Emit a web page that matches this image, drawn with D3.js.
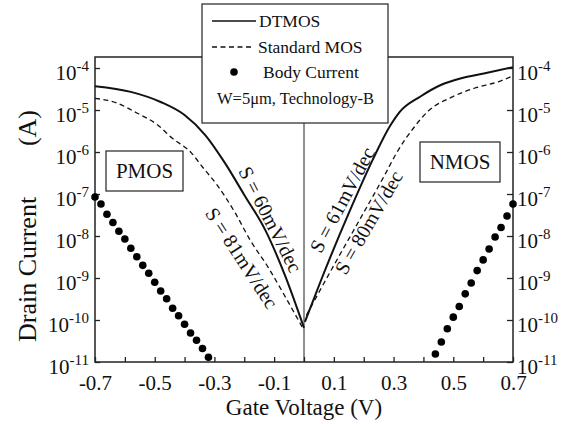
<!DOCTYPE html>
<html>
<head>
<meta charset="utf-8">
<script src="https://cdn.jsdelivr.net/npm/d3@7"></script>
<style>
  body { margin: 0; background: #fff; }
  text { font-family: "Liberation Serif", "Times New Roman", serif; fill: #111; }
</style>
</head>
<body>
<div class="chart"></div>
<script>
// ---- data ----
// PMOS side (negative gate voltage)
var pmosDtV   = [-0.70, -0.58, -0.48, -0.40, -0.33, -0.265, -0.20, -0.13, -0.064, 0];
var pmosDtI   = [3.7e-5, 2.7e-5, 1.55e-5, 7.6e-6, 2.5e-6, 5.5e-7, 9.5e-8, 1.4e-8, 1.17e-9, 6.5e-11];
var pmosStdV  = [-0.70, -0.63, -0.56, -0.49, -0.44, -0.38, -0.34, -0.29, -0.23, -0.18, -0.12, -0.07, 0];
var pmosStdI  = [1.9e-5, 1.5e-5, 8.5e-6, 4.4e-6, 2.1e-6, 1.0e-6, 4.4e-7, 1.6e-7, 3.5e-8, 7.9e-9, 1.8e-9, 4.4e-10, 5.7e-11];
var pmosBodyV = [-0.70, -0.68, -0.66, -0.64, -0.62, -0.60, -0.58, -0.56, -0.54, -0.52, -0.50, -0.48, -0.46, -0.44, -0.42, -0.40, -0.38, -0.36, -0.34, -0.32];
var pmosBodyI = [8.5e-8, 5.8e-8, 3.3e-8, 2.1e-8, 1.3e-8, 8.5e-9, 5.1e-9, 3.2e-9, 2.0e-9, 1.3e-9, 7.9e-10, 4.9e-10, 3.2e-10, 1.9e-10, 1.26e-10, 7.9e-11, 4.9e-11, 3.3e-11, 2.1e-11, 1.3e-11];

// NMOS side (positive gate voltage)
var nmosDtV   = [0.003, 0.06, 0.15, 0.23, 0.29, 0.32, 0.39, 0.46, 0.53, 0.61, 0.70];
var nmosDtI   = [9.0e-11, 1.0e-9, 3.5e-8, 6.5e-7, 4.4e-6, 8.9e-6, 2.1e-5, 4.0e-5, 5.8e-5, 7.6e-5, 1.05e-4];
var nmosStdV  = [0.008, 0.10, 0.19, 0.27, 0.31, 0.37, 0.42, 0.49, 0.57, 0.65, 0.70];
var nmosStdI  = [1.3e-10, 2.0e-9, 2.7e-8, 2.8e-7, 9.5e-7, 4.0e-6, 1.0e-5, 1.95e-5, 3.3e-5, 4.7e-5, 6.5e-5];
var nmosBodyV = [0.44, 0.46, 0.48, 0.50, 0.52, 0.54, 0.56, 0.58, 0.60, 0.62, 0.64, 0.66, 0.68, 0.70];
var nmosBodyI = [1.55e-11, 3.0e-11, 6.2e-11, 1.17e-10, 2.1e-10, 4.2e-10, 7.6e-10, 1.5e-9, 2.7e-9, 4.9e-9, 9.5e-9, 1.6e-8, 3.0e-8, 5.8e-8];

// ticks
var xTicks = [-0.7, -0.6, -0.5, -0.4, -0.3, -0.2, -0.1, 0, 0.1, 0.2, 0.3, 0.4, 0.5, 0.6, 0.7];
var xTickLabels = ["-0.7", "", "-0.5", "", "-0.3", "", "-0.1", "", "0.1", "", "0.3", "", "0.5", "", "0.7"];
var yExponents = [-4, -5, -6, -7, -8, -9, -10, -11];

var legendLabels = ["DTMOS", "Standard MOS", "Body Current", "W=5\u03bcm, Technology-B"];
var slopeLabels = ["S = 60mV/dec", "S = 81mV/dec", "S = 61mV/dec", "S = 80mV/dec"];
// point on the curve each slope label sits against (V, A)
var slopeAtV = [-0.145, -0.16, 0.16, 0.19];
var slopeAtI = [1.9e-8, 5.0e-9, 5.5e-8, 2.7e-8];

// ---- chart area ----
var svgWidth = 572, svgHeight = 424;
var margin = { top: 57, right: 59, bottom: 62, left: 95 };

var svg = d3.select(".chart").append("svg")
  .attr("width", svgWidth)
  .attr("height", svgHeight);

var x = d3.scaleLinear().domain([-0.7, 0.7]).range([margin.left, svgWidth - margin.right]);
var y = d3.scaleLog().domain([1e-11, 1.83e-4]).range([svgHeight - margin.bottom, margin.top]);

var x0 = x.range()[0], x1 = x.range()[1], yb = y.range()[0], yt = y.range()[1];

// frame
svg.append("rect")
  .attr("x", x0).attr("y", yt)
  .attr("width", x1 - x0).attr("height", yb - yt)
  .attr("fill", "none").attr("stroke", "#222").attr("stroke-width", 1.5);

// axes, ticks inward
svg.append("g")
  .attr("transform", `translate(0, ${yb})`)
  .call(d3.axisBottom(x).tickValues(xTicks).tickSize(-5).tickFormat((d, i) => xTickLabels[i]))
  .call(g => g.select(".domain").remove())
  .call(g => g.selectAll("line").attr("stroke", "#222").attr("stroke-width", 1.3))
  .call(g => g.selectAll("text").attr("y", 13).attr("dy", "0.71em")
    .style("font-size", "21px").style("font-family", "Liberation Serif, serif").attr("fill", "#111"));

var decades = yExponents.map(e => Math.pow(10, e));

svg.append("g")
  .attr("transform", `translate(${x0}, 0)`)
  .call(d3.axisLeft(y).tickValues(decades).tickSize(-5).tickFormat(""))
  .call(g => g.select(".domain").remove())
  .call(g => g.selectAll("line").attr("stroke", "#222").attr("stroke-width", 1.3));

svg.append("g")
  .attr("transform", `translate(${x1}, 0)`)
  .call(d3.axisRight(y).tickValues(decades).tickSize(-6).tickFormat(""))
  .call(g => g.select(".domain").remove())
  .call(g => g.selectAll("line").attr("stroke", "#222").attr("stroke-width", 1.3));

// y tick labels with superscripts, both sides
function powLabel(sel, anchor) {
  sel.each(function (e) {
    var t = d3.select(this);
    t.append("tspan").text("10").style("font-size", "21px");
    t.append("tspan").text(e).attr("dy", -9).style("font-size", "15px");
  }).attr("text-anchor", anchor);
}
svg.append("g").selectAll("text")
  .data(yExponents).join("text")
  .attr("x", x0 - 6)
  .attr("y", e => y(Math.pow(10, e)) + 12)
  .call(powLabel, "end");

svg.append("g").selectAll("text")
  .data(yExponents).join("text")
  .attr("x", x1 + 4)
  .attr("y", e => y(Math.pow(10, e)) + 12)
  .call(powLabel, "start");

// axis titles
svg.append("text")
  .attr("x", (x0 + x1) / 2).attr("y", 415)
  .attr("text-anchor", "middle")
  .style("font-size", "23px")
  .text("Gate Voltage (V)");

svg.append("text")
  .attr("transform", `translate(36, 342) rotate(-90)`)
  .attr("text-anchor", "start")
  .style("font-size", "26px")
  .text("Drain Current");
svg.append("text")
  .attr("transform", `translate(36, 110) rotate(-90)`)
  .attr("text-anchor", "end")
  .style("font-size", "26px")
  .text("(A)");

// zero line
svg.append("line")
  .attr("x1", x(0)).attr("x2", x(0))
  .attr("y1", yb).attr("y2", 123)
  .attr("stroke", "#222").attr("stroke-width", 1);

// curves
var line = d3.line()
  .x(d => x(d[0]))
  .y(d => y(d[1]))
  .curve(d3.curveMonotoneX);

function curve(vs, is, dashed) {
  svg.append("path")
    .datum(vs.map((v, i) => [v, is[i]]))
    .attr("d", line)
    .attr("fill", "none")
    .attr("stroke", "#111")
    .attr("stroke-width", dashed ? 1.3 : 2)
    .attr("stroke-dasharray", dashed ? "5,3.5" : null);
}
curve(pmosDtV, pmosDtI, false);
curve(pmosStdV, pmosStdI, true);
curve(nmosDtV, nmosDtI, false);
curve(nmosStdV, nmosStdI, true);

// body current dots
function dots(vs, is) {
  svg.append("g").selectAll("circle")
    .data(vs.map((v, i) => [v, is[i]]))
    .join("circle")
    .attr("cx", d => x(d[0]))
    .attr("cy", d => y(d[1]))
    .attr("r", 3.8)
    .attr("fill", "#000");
}
dots(pmosBodyV, pmosBodyI);
dots(nmosBodyV, nmosBodyI);

// slope annotations: rotated along the curves, shifted off the line in the text frame
var slopeRot = [63, 57, -62, -60];
var slopeDy = [-4, 24, -4, 16];
svg.append("g").selectAll("text")
  .data(slopeLabels).join("text")
  .attr("transform", (d, i) => `translate(${x(slopeAtV[i])}, ${y(slopeAtI[i])}) rotate(${slopeRot[i]})`)
  .attr("text-anchor", "middle")
  .attr("dy", (d, i) => slopeDy[i])
  .style("font-size", "20px")
  .text(d => d);

// device boxes
function devBox(bx, by, w, h, label) {
  svg.append("rect")
    .attr("x", bx).attr("y", by).attr("width", w).attr("height", h)
    .attr("fill", "#fff").attr("stroke", "#222").attr("stroke-width", 1.2);
  svg.append("text")
    .attr("x", bx + w / 2).attr("y", by + h / 2)
    .attr("dy", "0.35em")
    .attr("text-anchor", "middle")
    .style("font-size", "21px")
    .text(label);
}
devBox(106, 151, 77, 40, "PMOS");
devBox(420, 142, 80, 40, "NMOS");

// legend
var lg = svg.append("g");
lg.append("rect")
  .attr("x", 202).attr("y", 4).attr("width", 186).attr("height", 119)
  .attr("fill", "#fff").attr("stroke", "#222").attr("stroke-width", 1.2);
lg.append("line").attr("x1", 212).attr("x2", 256).attr("y1", 21).attr("y2", 21)
  .attr("stroke", "#111").attr("stroke-width", 1.6);
lg.append("line").attr("x1", 212).attr("x2", 254).attr("y1", 47).attr("y2", 47)
  .attr("stroke", "#111").attr("stroke-width", 1.3).attr("stroke-dasharray", "5,3.5");
lg.append("circle").attr("cx", 234).attr("cy", 72).attr("r", 3.8).attr("fill", "#000");
var legendPos = [[259, 27], [258, 53], [263, 78], [217, 104]];
lg.selectAll("text")
  .data(legendLabels).join("text")
  .attr("x", (d, i) => legendPos[i][0])
  .attr("y", (d, i) => legendPos[i][1])
  .style("font-size", (d, i) => i === 3 ? "16.5px" : "17.5px")
  .text(d => d);
</script>
</body>
</html>
